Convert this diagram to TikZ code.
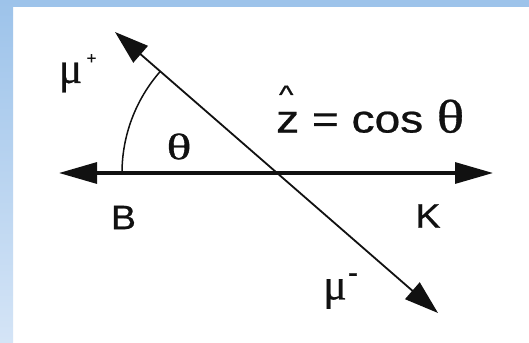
\documentclass[tikz,border=0pt]{standalone}
\usepackage{fontspec}
\setmainfont[FakeBold=0.6]{Liberation Sans}
\newfontfamily\serifgr[FakeBold=0.6]{Liberation Serif}
\usetikzlibrary{arrows.meta}
\definecolor{bluetop}{HTML}{9DC3EA}
\definecolor{bluebot}{HTML}{D4E4F6}
\definecolor{ink}{HTML}{111111}
\newcommand\xsc[2]{\scalebox{#1}[1]{#2}}
\newcommand\zhat{\rlap{\hspace{2.4pt}\raisebox{29pt}{\fontsize{26}{26}\selectfont\textasciicircum}}z}
\tikzset{
  txt/.style={inner sep=0pt, text=ink},
  axisline/.style={draw=ink, line width=3.2pt, {Triangle[length=38pt,width=21pt]}-{Triangle[length=38pt,width=21pt]}},
  muline/.style={draw=ink, line width=1.8pt, {Triangle[length=34pt,width=22pt]}-{Triangle[length=34pt,width=22pt]}},
  anglearc/.style={draw=ink, line width=1.5pt},
}
\begin{document}
\begin{tikzpicture}[x=1pt,y=-1pt]
\useasboundingbox (0,0) rectangle (529,342);
\fill[white] (0,0) rectangle (529,342);
\fill[bluetop] (0,0) rectangle (529,7);
\shade[top color=bluetop, bottom color=bluebot] (0,0) rectangle (13,342);

\coordinate (O) at (276,173);
\coordinate (Btip) at (59,173);
\coordinate (Ktip) at (493,173);
\coordinate (MPtip) at (115,32);
\coordinate (MMtip) at (438,313);

\draw[axisline] (Btip) -- (Ktip);
\draw[muline] (MPtip) -- (MMtip);
\draw[anglearc] (O) ++(-154,0) arc[start angle=180, end angle=221.2, radius=154];

\node[txt] (B) at (123.5,217.5) {\fontsize{34}{34}\selectfont\xsc{1.1}{B}};
\node[txt] (K) at (428,216) {\fontsize{34}{34}\selectfont\xsc{1.1}{K}};
\node[txt] (th) at (179,146.5) {\fontsize{37}{37}\serifgr\xsc{1.4}{θ}};
\node[txt] (mup) at (70.5,77.5) {\fontsize{44}{44}\serifgr μ};
\node[txt] (plus) at (91.5,59) {\fontsize{17}{17}\selectfont +};
\node[txt] (mum) at (335,294) {\fontsize{44}{44}\serifgr μ};
\node[txt] (minus) at (353,278) {\fontsize{30}{30}\selectfont -};
\node[txt, anchor=base west] (eq) at (276,132.5) {\fontsize{39}{39}\selectfont\xsc{1.18}{\zhat{} = cos}\hspace{13.5pt}{\serifgr\fontsize{47}{47}\selectfont\xsc{1.22}{θ}}};
\end{tikzpicture}
\end{document}
